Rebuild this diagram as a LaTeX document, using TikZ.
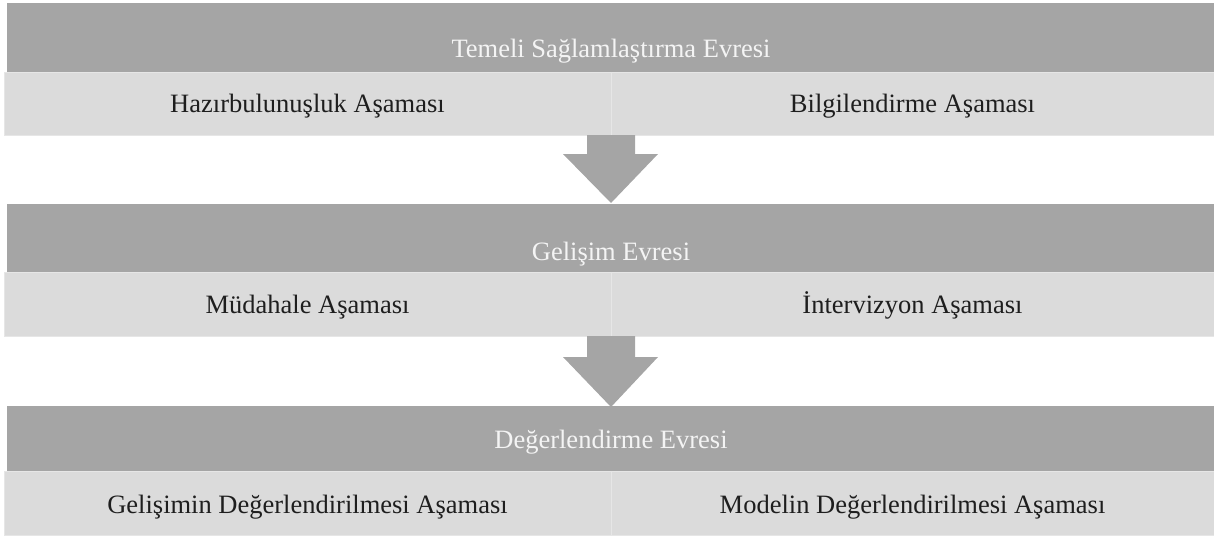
\documentclass[tikz,border=0pt]{standalone}
\usepackage{fontspec}
\setmainfont{Liberation Serif}
\usetikzlibrary{calc}
\definecolor{bandDark}{HTML}{A5A5A5}
\definecolor{bandLight}{HTML}{DBDBDB}
\definecolor{edgeLight}{HTML}{E6E6E6}
\definecolor{txtDark}{HTML}{1E1E1E}
\definecolor{txtLight}{HTML}{F4F4F4}
\begin{document}
\begin{tikzpicture}[x=1pt,y=-1pt,
  darkband/.style={fill=bandDark, draw=none, inner sep=0pt, anchor=north west, minimum width=1207pt},
  lightcell/.style={fill=bandLight, draw=edgeLight, line width=0.8pt, inner sep=0pt, anchor=north west},
  headtext/.style={anchor=base, text=txtLight, inner sep=0pt, font=\fontsize{26.5}{30}\selectfont},
  celltext/.style={anchor=base, text=txtDark, inner sep=0pt, font=\fontsize{26.5}{30}\selectfont},
  blockarrow/.style={fill=bandDark, draw=none}]
\useasboundingbox (0,0) rectangle (1214,536);
% phase 1
\node[darkband, minimum height=69pt] (e1) at (7,3) {};
\node[lightcell, minimum width=607pt, minimum height=63pt] (c11) at (4,72) {};
\node[lightcell, minimum width=603pt, minimum height=63pt] (c12) at (611,72) {};
\node[headtext] (t1) at (611,57) {Temeli Sağlamlaştırma Evresi};
\node[celltext] (t11) at (307.5,112) {Hazırbulunuşluk Aşaması};
\node[celltext] (t12) at (912.5,112) {Bilgilendirme Aşaması};
% phase 2
\node[darkband, minimum height=68pt] (e2) at (7,204) {};
\node[lightcell, minimum width=607pt, minimum height=64pt] (c21) at (4,272) {};
\node[lightcell, minimum width=603pt, minimum height=64pt] (c22) at (611,272) {};
\node[headtext] (t2) at (611,260) {Gelişim Evresi};
\node[celltext] (t21) at (307.5,313) {Müdahale Aşaması};
\node[celltext] (t22) at (912.5,313) {İntervizyon Aşaması};
% phase 3
\node[darkband, minimum height=65pt] (e3) at (7,406) {};
\node[lightcell, minimum width=607pt, minimum height=64pt] (c31) at (4,471) {};
\node[lightcell, minimum width=603pt, minimum height=64pt] (c32) at (611,471) {};
\node[headtext] (t3) at (611,448) {Değerlendirme Evresi};
\node[celltext] (t31) at (307.5,513) {Gelişimin Değerlendirilmesi Aşaması};
\node[celltext] (t32) at (912.5,513) {Modelin Değerlendirilmesi Aşaması};
% arrows
\coordinate (a1s) at (611,135);
\coordinate (a1t) at (611,203);
\fill[blockarrow] ($(a1s)+(-24,0)$) -- ($(a1s)+(24,0)$) -- ($(a1s)+(24,19)$) -- ($(a1s)+(47,19)$) -- (a1t) -- ($(a1s)+(-48,19)$) -- ($(a1s)+(-24,19)$) -- cycle;
\coordinate (a2s) at (611,336);
\coordinate (a2t) at (611,407);
\fill[blockarrow] ($(a2s)+(-24,0)$) -- ($(a2s)+(24,0)$) -- ($(a2s)+(24,21)$) -- ($(a2s)+(47,21)$) -- (a2t) -- ($(a2s)+(-48,21)$) -- ($(a2s)+(-24,21)$) -- cycle;
\end{tikzpicture}
\end{document}
